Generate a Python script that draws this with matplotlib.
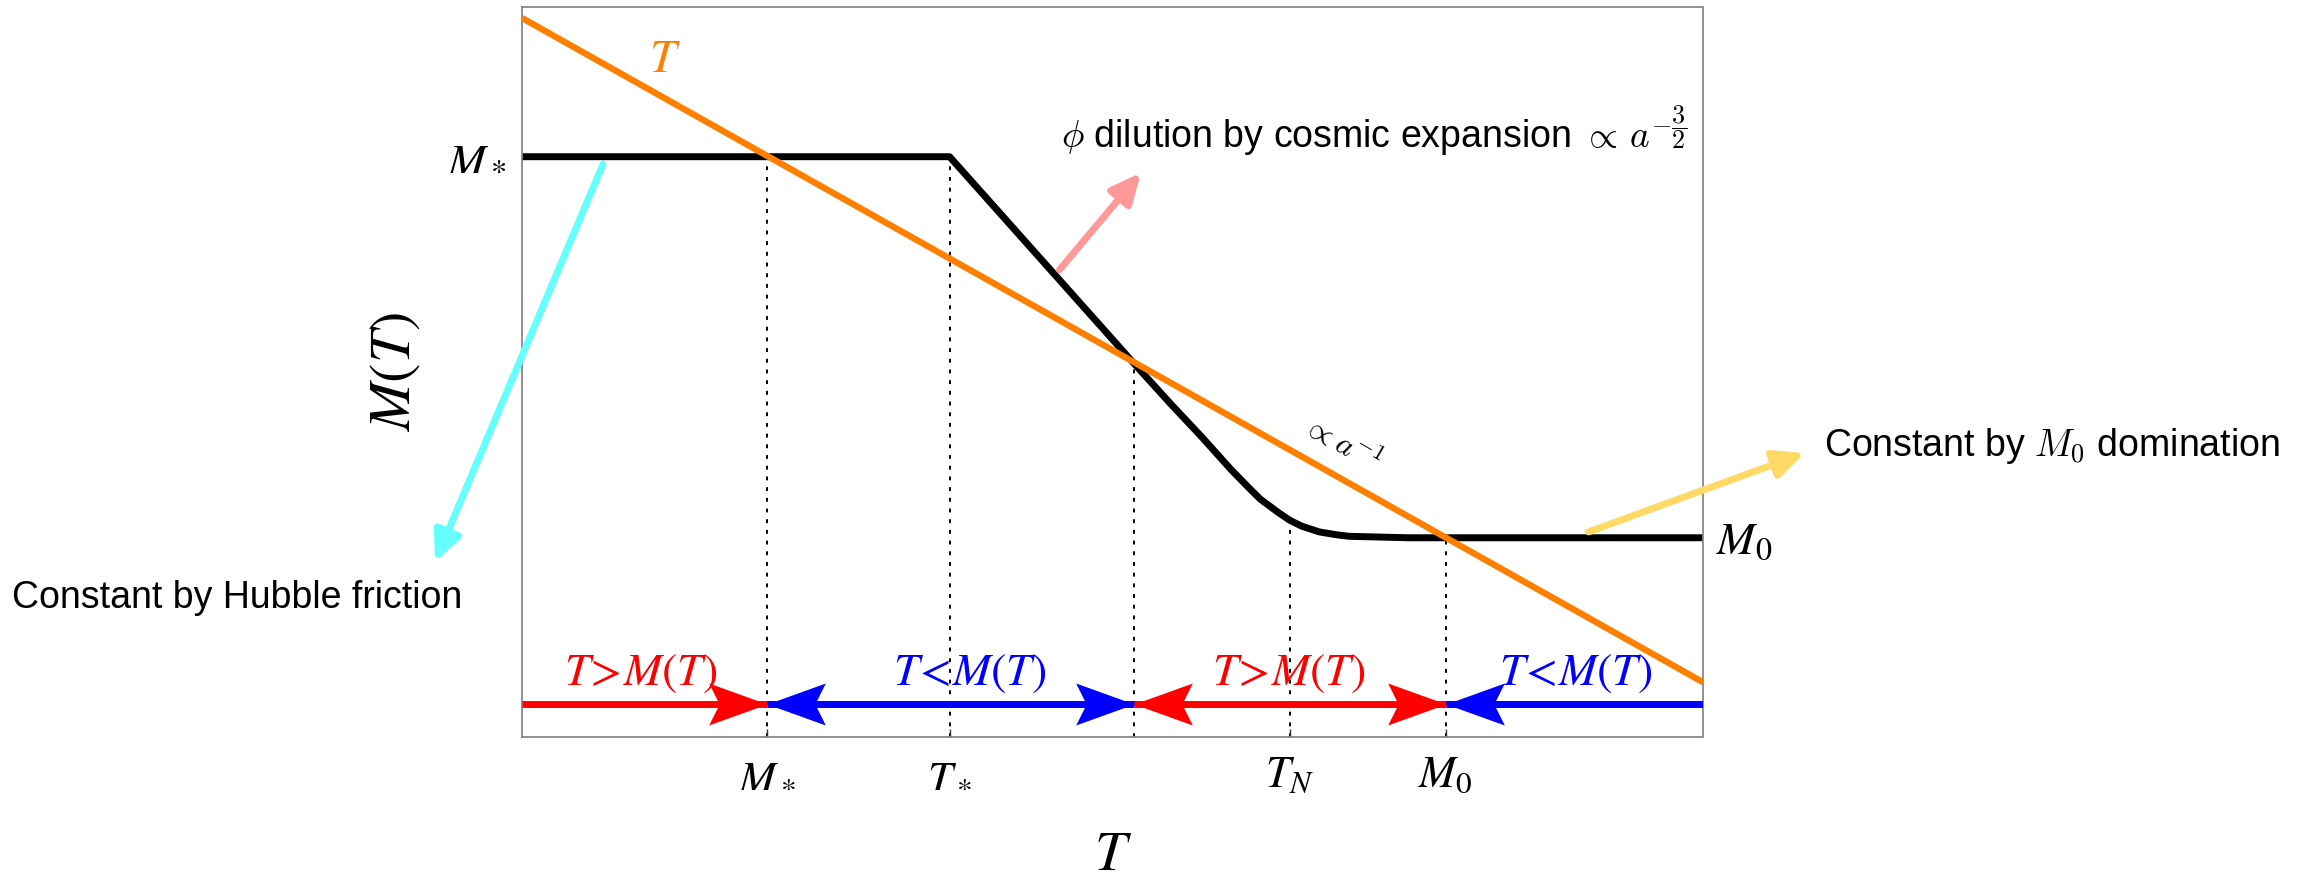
import numpy as np
import matplotlib.pyplot as plt
from matplotlib.path import Path
from matplotlib.markers import MarkerStyle

plt.rcParams['font.family'] = ['Liberation Sans', 'DejaVu Sans']
plt.rcParams['mathtext.fontset'] = 'stix'

# black M(T) curve (arbitrary units 0..10)
curve_T = [0.0, 3.62, 5.18, 5.5, 5.75, 6.0, 6.15, 6.25, 6.4, 6.5, 6.6, 6.75, 6.9, 7.0, 7.25, 7.5, 10.0]
curve_M = [7.95, 7.95, 5.12, 4.55, 4.12, 3.67, 3.42, 3.26, 3.08, 2.97, 2.89, 2.81, 2.77, 2.75, 2.74, 2.73, 2.73]

# orange T line
line_T = [0.0, 10.0]
line_y = [9.85, 0.75]

# special points on the T axis
tick_pos = [2.07, 3.62, 6.50, 7.82]
tick_labels = [r'$M_*$', r'$T_*$', r'$T_N$', r'$M_0$']

# dotted guide lines (x, top)
guide_x = [2.07, 3.62, 5.18, 6.50, 7.82]
guide_top = [7.95, 7.95, 5.12, 2.97, 2.73]

# regions along the bottom
seg_start = [0.0, 2.07, 5.18, 7.82]
seg_end = [2.07, 5.18, 7.82, 10.0]
seg_colors = ['#ff0000', '#0000ff', '#ff0000', '#0000ff']
seg_labels = [r'$T\!>\!M(T)$', r'$T\!<\!M(T)$', r'$T\!>\!M(T)$', r'$T\!<\!M(T)$']
seg_label_x = [1.0, 3.79, 6.49, 8.92]
flow_y = 0.45

fig = plt.figure(figsize=(23.08, 8.83), dpi=100)
ax = fig.add_axes([0.2262, 0.1653, 0.5117, 0.8267])
ax.set_xlim(0, 10)
ax.set_ylim(0, 10)

for s in ax.spines.values():
    s.set_color('#888888')
    s.set_linewidth(1.3)

ax.vlines(guide_x, 0, guide_top, colors='black', linestyles=(0, (2, 3.5)), lw=1.4, zorder=1)

ax.plot(line_T, line_y, color='#ff8000', lw=4.6, zorder=3, solid_capstyle='butt')
ax.plot(curve_T, curve_M, color='black', lw=5, zorder=2, solid_joinstyle='round')

# arrowhead markers for the flow arrows
head = [(0, 0), (-1, 0.36), (-0.82, 0), (-1, -0.36), (0, 0)]
codes = [Path.MOVETO, Path.LINETO, Path.LINETO, Path.LINETO, Path.CLOSEPOLY]
right_head = MarkerStyle(Path(head, codes))
left_head = MarkerStyle(Path([(-x, y) for x, y in head], codes))

for i in range(4):
    ax.plot([seg_start[i], seg_end[i]], [flow_y, flow_y], color=seg_colors[i], lw=5,
            solid_capstyle='butt', zorder=4)
for i in range(4):
    if i < 3:
        ax.plot(seg_end[i], flow_y, marker=right_head, ms=84, mew=0, color=seg_colors[i], zorder=5)
    if i > 0:
        ax.plot(seg_start[i], flow_y, marker=left_head, ms=84, mew=0, color=seg_colors[i], zorder=5)
    ax.text(seg_label_x[i], 0.88, seg_labels[i], color=seg_colors[i], fontsize=33,
            ha='center', va='center', zorder=6)

ax.set_xticks(tick_pos)
ax.set_xticklabels(tick_labels, fontsize=32)
ax.tick_params(axis='x', direction='in', length=6, width=1, color='#333333', pad=13)
ax.set_yticks([])

ax.set_xlabel(r'$T$', fontsize=41)
ax.xaxis.set_label_coords(0.5, -0.125)
ax.set_ylabel(r'$M(T)$', fontsize=42)
ax.yaxis.set_label_coords(-0.085, 0.5)

# labels on the curves
ax.text(-0.13, 7.93, r'$M_*$', fontsize=33, ha='right', va='center', clip_on=False)
ax.text(10.11, 2.67, r'$M_0$', fontsize=33, ha='left', va='center', clip_on=False)
ax.text(1.21, 9.27, r'$T$', fontsize=34, color='#ff8000', ha='center', va='center')
ax.text(6.94, 4.01, r'${\propto}a^{-1}$', fontsize=23, rotation=-30, rotation_mode='anchor',
        ha='center', va='center', math_fontfamily='cm')

# explanation arrows
def note_arrow(tail, tip, color):
    ax.annotate('', xy=tip, xytext=tail, annotation_clip=False,
                arrowprops=dict(arrowstyle='-|>,head_length=0.9,head_width=0.42', color=color,
                                lw=5, mutation_scale=20, shrinkA=0, shrinkB=0))

note_arrow((0.686, 7.85), (-0.737, 2.40), '#66ffff')
note_arrow((4.55, 6.40), (5.24, 7.73), '#ff9999')
note_arrow((9.03, 2.81), (10.86, 3.89), '#ffd966')

ax.text(-4.32, 1.77, 'Constant by Hubble friction', fontsize=27, ha='left', va='baseline',
        clip_on=False)
ax.text(4.56, 8.07, r'$\phi$ dilution by cosmic expansion ${\propto}\,a^{-\dfrac{3}{2}}$', fontsize=27,
        ha='left', va='baseline', math_fontfamily='cm')
ax.text(11.02, 3.85, r'Constant by $M_0$ domination', fontsize=27, ha='left', va='baseline',
        math_fontfamily='cm', clip_on=False)

fig.savefig('out.png', dpi=100)
